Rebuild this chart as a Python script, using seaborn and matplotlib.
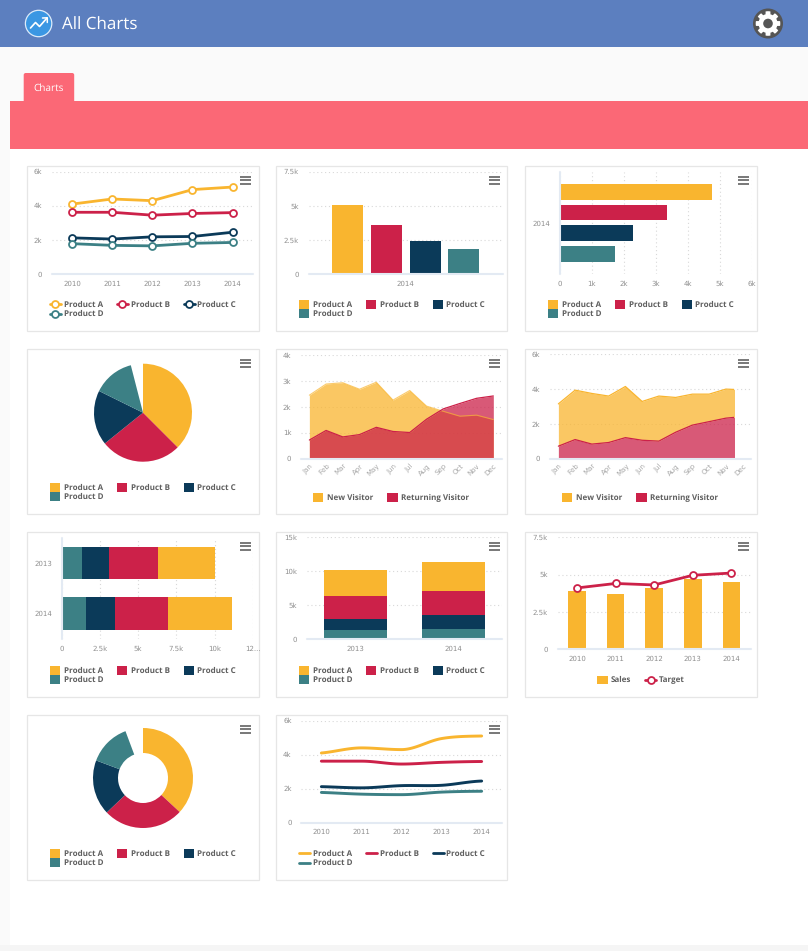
import numpy as np
import pandas as pd
import matplotlib
matplotlib.use('Agg')
import matplotlib.pyplot as plt
from matplotlib.patches import Rectangle, Circle, Polygon, FancyBboxPatch
import seaborn as sns

W, H = 808, 951

# Data
products = ['Product A', 'Product B', 'Product C', 'Product D']
years = ['2010', '2011', '2012', '2013', '2014']
months = ['Jan', 'Feb', 'Mar', 'Apr', 'May', 'Jun', 'Jul', 'Aug', 'Sep', 'Oct', 'Nov', 'Dec']

product_a = [4100, 4400, 4300, 4950, 5100]
product_b = [3620, 3620, 3450, 3550, 3600]
product_c = [2120, 2050, 2180, 2200, 2450]
product_d = [1780, 1680, 1650, 1800, 1850]

column_2014 = [5030, 3570, 2390, 1810]
bar_2014 = [4770, 3350, 2300, 1720]

pie_values = [37.5, 26.7, 18.1, 13.7]
pie_gap = 4.0
donut_values = [36.9, 26.0, 17.8, 13.6]
donut_gap = 5.7

new_visitor = [2450, 2880, 2930, 2680, 2950, 2260, 2630, 2030, 1830, 1640, 1680, 1510]
returning_visitor = [720, 1090, 840, 930, 1210, 1050, 1010, 1520, 1920, 2130, 2330, 2420]
stacked_new = [2430, 2840, 2910, 2670, 2940, 2230, 2590, 2000, 1780, 1580, 1670, 1540]
stacked_returning = [720, 1100, 840, 930, 1210, 1060, 1010, 1520, 1930, 2130, 2330, 2420]

stack_years = ['2013', '2014']
hstack_a = [3730, 4240]
hstack_b = [3190, 3430]
hstack_c = [1725, 1900]
hstack_d = [1355, 1595]
vstack_a = [3870, 4310]
vstack_b = [3280, 3530]
vstack_c = [1670, 2010]
vstack_d = [1370, 1570]

sales = [3870, 3720, 4120, 4680, 4480]
target = [4100, 4400, 4300, 4950, 5100]

colors = ['#F9B52F', '#CC2149', '#0B3A59', '#3C8085']
grey_tick = '#8F8F8F'
grey_text = '#5F5F5F'

sns.set_theme(style='white')
plt.rcParams['font.family'] = ['DejaVu Sans']
plt.rcParams['axes.facecolor'] = 'none'
plt.rcParams['patch.edgecolor'] = 'none'
plt.rcParams['patch.linewidth'] = 0
plt.rcParams['text.hinting'] = 'no_hinting'
plt.rcParams['text.hinting_factor'] = 1

fig = plt.figure(figsize=(W / 100, H / 100), dpi=100, facecolor='#FAFAFA')


def px_axes(x0, y0, x1, y1, z=1):
    # axes placed by pixel box, y measured from the top of the image
    return fig.add_axes([x0 / W, 1 - y1 / H, (x1 - x0) / W, (y1 - y0) / H], zorder=z)


bg = px_axes(0, 0, W, H, 0)
bg.set_xlim(0, W)
bg.set_ylim(H, 0)
bg.axis('off')
fg = px_axes(0, 0, W, H, 5)
fg.set_xlim(0, W)
fg.set_ylim(H, 0)
fg.axis('off')

# page frame
bg.add_patch(Rectangle((10, 47), W - 10, 898, fc='#FAFAFA', ec='none'))
bg.add_patch(Rectangle((10, 148), W - 10, 797, fc='white', ec='none'))
bg.add_patch(Rectangle((0, 945), W, 6, fc='#F5F5F5', ec='none'))
bg.add_patch(Rectangle((0, 0), W, 46.5, fc='#5C7FBF', ec='none'))
bg.add_patch(Rectangle((10, 100.5), W - 10, 48, fc='#FB6876', ec='none'))
bg.add_patch(FancyBboxPatch((25.2, 74.5), 47.5, 30, boxstyle='round,pad=1.5,rounding_size=2', fc='#FB6876', ec='none'))
bg.text(48.7, 88.3, 'Charts', color='white', fontsize=7.4, ha='center', va='center', family='Open Sans')
bg.text(61.5, 25.8, 'All Charts', color='white', fontsize=12.4, ha='left', va='center', family='Open Sans')

# logo
bg.add_patch(Circle((38.6, 23.5), 13.2, fc='#3B97E3', ec='#DCEBFA', lw=0.9))
bg.plot([30.5, 35.5, 39.5, 47], [28, 22.5, 26.5, 18], color='white', lw=1.2, solid_capstyle='round')
bg.plot([42.5, 47.3, 47.3], [18, 17.8, 22.5], color='white', lw=1.1, solid_capstyle='round')

# settings gear
bg.add_patch(Circle((768, 23.5), 15, fc='#555555', ec='none'))
theta = np.linspace(0, 2 * np.pi, 97)[:-1]
tooth = (np.cos(theta * 8) > -0.1).astype(float)
radius = 9.5 + 2.8 * tooth
bg.add_patch(Polygon(np.c_[768 + radius * np.cos(theta), 23.5 + radius * np.sin(theta)], fc='white', ec='none'))
bg.add_patch(Circle((768, 23.5), 4.8, fc='#555555', ec='none'))

card_xs = [27, 276, 525]
card_ys = [165.5, 348.5, 531.5, 714.5]
card_w = [232, 231, 232]
cards = [(0, 0), (1, 0), (2, 0), (0, 1), (1, 1), (2, 1), (0, 2), (1, 2), (2, 2), (0, 3), (1, 3)]
for col, row in cards:
    x, y = card_xs[col], card_ys[row]
    bg.add_patch(Rectangle((x, y), card_w[col], 165.5, fc='white', ec='#E6E6E6', lw=0.9))
    for off in (11, 14.5, 18):
        fg.plot([x + 213.2, x + 224.2], [y + off, y + off], color='#5A5A5A', lw=1.15, solid_capstyle='butt')


def legend_entry(x_handle, x_text, y, label, color, kind):
    if kind == 'box':
        bg.add_patch(Rectangle((x_handle, y - 4.3), 10.6, 8.6, fc=color, ec='none'))
    else:
        bg.plot([x_handle, x_handle + 11], [y, y], color=color, lw=2.0)
        if kind == 'marker':
            bg.plot([x_handle + 5.5], [y], marker='o', ms=5, mfc='white', mec=color, mew=1.3)
    bg.text(x_text, y + 0.4, label, color=grey_text, fontsize=6.0, fontweight='bold', ha='left', va='center',
            family='Open Sans')


def product_legend(col, row, kind):
    x, y = card_xs[col], card_ys[row] + 138.8
    places = [(22.5, 36.7, y), (89.7, 104, y), (156.7, 170.3, y), (22.5, 36.7, y + 9.4)]
    for (hx, tx, ty), name, c in zip(places, products, colors):
        legend_entry(x + hx, x + tx, ty, name, c, kind)


def style(ax, xlabels=None, ylabels=None, xticks=None, yticks=None, vertical=False, rotate=False):
    sns.despine(ax=ax, left=True, bottom=True, top=True, right=True)
    if xticks is not None:
        ax.set_xticks(xticks, xlabels)
    if yticks is not None:
        ax.set_yticks(yticks, ylabels)
    ax.set_xlabel('')
    ax.set_ylabel('')
    ax.grid(False)
    if vertical:
        ax.xaxis.grid(True, ls=(0, (1, 2.5)), color='#D8D8D8', lw=0.8)
        ax.axvline(ax.get_xlim()[0], color='#E3EAF3', lw=1.5, clip_on=False, zorder=1)
    else:
        ax.yaxis.grid(True, ls=(0, (1, 2.5)), color='#D8D8D8', lw=0.8)
        ax.axhline(0, color='#E3EAF3', lw=1.5, clip_on=False, zorder=1)
    ax.set_axisbelow(True)
    ax.tick_params(axis='both', length=0, labelsize=5.3, labelcolor=grey_tick)
    ax.tick_params(axis='y', pad=7.0)
    ax.tick_params(axis='x', pad=4.6)
    if rotate:
        ax.tick_params(axis='x', pad=2.5)
        for lab in ax.get_xticklabels():
            lab.set_rotation(45)
            lab.set_ha('right')
            lab.set_rotation_mode('anchor')
            lab.set_color('#A5A5A5')


def smooth(values):
    # flat tangents at turning points, like a spline series
    v = np.array(values, dtype=float)
    tang = np.zeros(len(v))
    for i in range(1, len(v) - 1):
        if (v[i] - v[i - 1]) * (v[i + 1] - v[i]) > 0:
            tang[i] = (v[i + 1] - v[i - 1]) / 2
    tang[0] = (v[1] - v[0]) * 0.7
    tang[-1] = (v[-1] - v[-2]) * 0.3
    xs, ys = [], []
    for i in range(len(v) - 1):
        t = np.linspace(0, 1, 30)
        ys.append((2*t**3 - 3*t**2 + 1) * v[i] + (t**3 - 2*t**2 + t) * tang[i]
                  + (-2*t**3 + 3*t**2) * v[i + 1] + (t**3 - t**2) * tang[i + 1])
        xs.append(i + t)
    return np.concatenate(xs), np.concatenate(ys)


series = [product_a, product_b, product_c, product_d]
pos5 = np.arange(len(years))
pos12 = np.arange(len(months))

# line chart
ax = px_axes(52, 171.7, 252.7, 274)
for vals, c in zip(series, colors):
    sns.lineplot(x=pos5, y=vals, color=c, lw=2.0, marker='o', ms=5, mfc='white', mec=c, mew=1.3, ax=ax, clip_on=False)
ax.set_xlim(-0.5, 4.5)
ax.set_ylim(0, 6000)
style(ax, years, ['0', '2k', '4k', '6k'], pos5, [0, 2000, 4000, 6000])
product_legend(0, 0, 'marker')

# column chart
long = pd.DataFrame({'year': ['2014'] * 4, 'product': products, 'value': column_2014})
ax = px_axes(308.8, 171.7, 502.6, 274)
sns.barplot(data=long, x='year', y='value', hue='product', palette=colors, saturation=1,
            width=0.8, gap=0.2, legend=False, linewidth=0, ax=ax)
ax.set_xlim(-0.5, 0.5)
ax.set_ylim(0, 7500)
style(ax, ['2014'], ['0', '2.5k', '5k', '7.5k'], [0], [0, 2500, 5000, 7500])
product_legend(1, 0, 'box')

# bar chart
long = pd.DataFrame({'year': ['2014'] * 4, 'product': products, 'value': bar_2014})
ax = px_axes(560, 171.7, 751.7, 274)
sns.barplot(data=long, y='year', x='value', hue='product', palette=colors, saturation=1,
            width=0.805, gap=0.24, legend=False, linewidth=0, ax=ax)
ax.set_xlim(0, 6000)
ax.set_ylim(0.5, -0.5)
style(ax, ['0', '1k', '2k', '3k', '4k', '5k', '6k'], ['2014'], np.arange(0, 7000, 1000), [0], vertical=True)
product_legend(2, 0, 'box')

# pie chart
ax = px_axes(94, 363.7, 192, 461.7)
ax.pie(pie_values + [pie_gap], colors=colors + ['none'], startangle=90, counterclock=False, radius=1,
       wedgeprops={'linewidth': 0})
ax.set_xlim(-1, 1)
ax.set_ylim(-1, 1)
product_legend(0, 1, 'box')

# overlapping area chart
ax = px_axes(301, 355, 501.7, 458.7)
ax.fill_between(pos12, new_visitor, color=colors[0], alpha=0.75, lw=0)
sns.lineplot(x=pos12, y=new_visitor, color=colors[0], lw=0.8, alpha=0.7, ax=ax)
ax.fill_between(pos12, returning_visitor, color=colors[1], alpha=0.75, lw=0)
sns.lineplot(x=pos12, y=returning_visitor, color=colors[1], lw=0.9, ax=ax)
ax.set_xlim(-0.5, 11.5)
ax.set_ylim(0, 4000)
style(ax, months, ['0', '1k', '2k', '3k', '4k'], pos12, [0, 1000, 2000, 3000, 4000], rotate=True)
legend_entry(312.7, 326.7, 497.3, 'New Visitor', colors[0], 'box')
legend_entry(387.3, 401.3, 497.3, 'Returning Visitor', colors[1], 'box')

# stacked area chart, cut off before December as in the picture
ax = px_axes(550, 354.3, 751, 458.7)
total = np.array(stacked_new) + np.array(stacked_returning)
clip = Rectangle((-0.5, 0), 11, 6000, transform=ax.transData)
parts = [ax.fill_between(pos12, stacked_returning, total, color=colors[0], alpha=0.75, lw=0)]
sns.lineplot(x=pos12, y=total, color=colors[0], lw=0.9, ax=ax)
parts.append(ax.lines[-1])
parts.append(ax.fill_between(pos12, stacked_returning, color=colors[1], alpha=0.75, lw=0))
sns.lineplot(x=pos12, y=stacked_returning, color=colors[1], lw=0.9, ax=ax)
parts.append(ax.lines[-1])
for part in parts:
    part.set_clip_path(clip)
ax.set_xlim(-0.5, 11.5)
ax.set_ylim(0, 6000)
style(ax, months, ['0', '2k', '4k', '6k'], pos12, [0, 2000, 4000, 6000], rotate=True)
legend_entry(561.7, 575.7, 497.3, 'New Visitor', colors[0], 'box')
legend_entry(636.3, 650.3, 497.3, 'Returning Visitor', colors[1], 'box')

# stacked bars, horizontal
ax = px_axes(61.7, 537.7, 252.7, 639)
left = np.zeros(2)
for vals, c in zip([hstack_d, hstack_c, hstack_b, hstack_a], colors[::-1]):
    sns.barplot(x=vals, y=stack_years, color=c, saturation=1, width=0.64, left=left, linewidth=0, ax=ax, orient='y')
    left = left + np.array(vals)
ax.set_xlim(0, 12500)
ax.set_ylim(1.5, -0.5)
style(ax, ['0', '2.5k', '5k', '7.5k', '10k', '12...'], stack_years, np.arange(0, 15000, 2500), [0, 1], vertical=True)
product_legend(0, 2, 'box')

# stacked bars, vertical
ax = px_axes(306.7, 537.3, 502.2, 639.3)
bottom = np.zeros(2)
for vals, c in zip([vstack_d, vstack_c, vstack_b, vstack_a], colors[::-1]):
    sns.barplot(x=stack_years, y=vals, color=c, saturation=1, width=0.644, bottom=bottom, linewidth=0, ax=ax)
    bottom = bottom + np.array(vals)
ax.set_xlim(-0.5, 1.5)
ax.set_ylim(0, 15000)
style(ax, stack_years, ['0', '5k', '10k', '15k'], [0, 1], [0, 5000, 10000, 15000])
product_legend(1, 2, 'box')

# column and line combination
ax = px_axes(557.7, 537.3, 750.7, 649)
sns.barplot(x=pos5, y=sales, color=colors[0], saturation=1, width=0.458, linewidth=0, ax=ax)
sns.lineplot(x=pos5, y=target, color=colors[1], lw=2.0, marker='o', ms=5, mfc='white', mec=colors[1],
             mew=1.3, ax=ax, clip_on=False)
ax.set_xlim(-0.5, 4.5)
ax.set_ylim(0, 7500)
style(ax, years, ['0', '2.5k', '5k', '7.5k'], pos5, [0, 2500, 5000, 7500])
legend_entry(597, 610.7, 679.9, 'Sales', colors[0], 'box')
legend_entry(645.3, 659.3, 679.9, 'Target', colors[1], 'marker')

# donut chart
ax = px_axes(93, 728, 193, 828)
ax.pie(donut_values + [donut_gap], colors=colors + ['none'], startangle=90, counterclock=False, radius=1,
       wedgeprops={'width': 0.5, 'linewidth': 0})
ax.set_xlim(-1, 1)
ax.set_ylim(-1, 1)
product_legend(0, 3, 'box')

# spline chart
ax = px_axes(301.3, 720.7, 501.7, 822.7)
for vals, c in zip(series, colors):
    xs, ys = smooth(vals)
    sns.lineplot(x=xs, y=ys, color=c, lw=2.1, ax=ax)
ax.set_xlim(-0.5, 4.5)
ax.set_ylim(0, 6000)
style(ax, years, ['0', '2k', '4k', '6k'], pos5, [0, 2000, 4000, 6000])
product_legend(1, 3, 'line')

fig.savefig('out.png', dpi=100, facecolor=fig.get_facecolor())
